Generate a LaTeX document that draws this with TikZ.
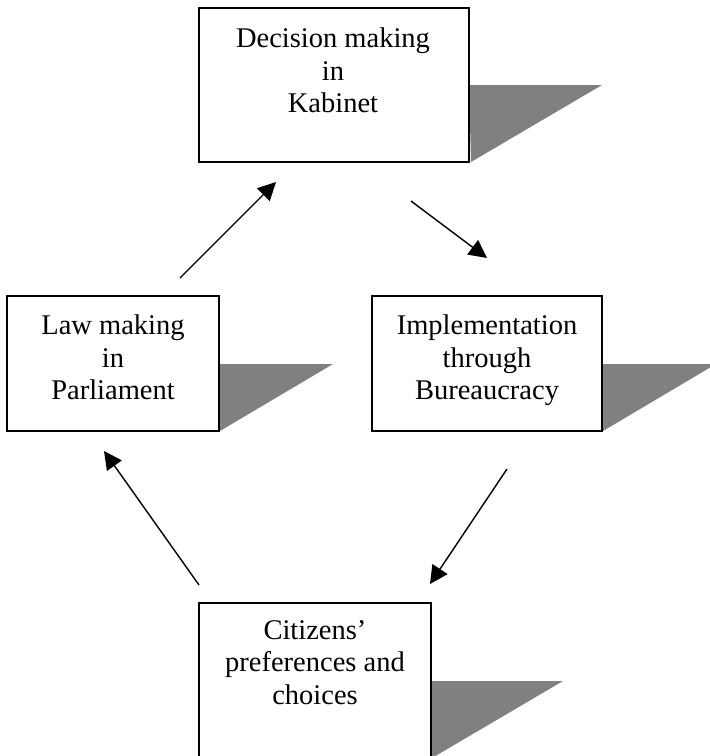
\documentclass[tikz,border=0pt]{standalone}
\usepackage{fontspec}
\setmainfont{Liberation Serif}
\usetikzlibrary{arrows.meta}
\tikzset{
  boxstyle/.style={draw=black, fill=white, line width=1.3pt, inner sep=0pt},
  labelstyle/.style={align=center, anchor=north, inner sep=0pt, font=\fontsize{28.5}{32.5}\selectfont},
  flowarrow/.style={line width=1.4pt, -{Triangle[length=18pt,width=18pt]}}
}
\definecolor{shadowgray}{RGB}{128,128,128}
\begin{document}
\begin{tikzpicture}[x=1pt,y=-1pt]
\useasboundingbox (0,0) rectangle (710,756);
% shadows
\fill[shadowgray] (469,85) -- (602,85) -- (471,162) -- cycle;
\fill[shadowgray] (219,364) -- (333,364) -- (220,431) -- cycle;
\fill[shadowgray] (602,364) -- (716,364) -- (603,431) -- cycle;
\fill[shadowgray] (431,681) -- (563,681) -- (432,758) -- cycle;
% boxes
\node[boxstyle, minimum width=270pt, minimum height=154pt] (top) at (334,85) {};
\node[boxstyle, minimum width=212pt, minimum height=135pt] (left) at (113,363.5) {};
\node[boxstyle, minimum width=230pt, minimum height=135pt] (right) at (487,363.5) {};
\node[boxstyle, minimum width=232pt, minimum height=170pt] (bottom) at (315,688) {};
% labels
\node[labelstyle] (toplabel) at (333,28) {Decision making\\in\\Kabinet};
\node[labelstyle] (leftlabel) at (113,315) {Law making\\in\\Parliament};
\node[labelstyle] (rightlabel) at (487,315) {Implementation\\through\\Bureaucracy};
\node[labelstyle] (bottomlabel) at (315,620) {Citizens’\\preferences and\\choices};
% arrow end points
\coordinate (a1s) at (180,278);
\coordinate (a1e) at (276,182);
\coordinate (a2s) at (411,201);
\coordinate (a2e) at (487,258);
\coordinate (a3s) at (507,469);
\coordinate (a3e) at (430,584);
\coordinate (a4s) at (199,585);
\coordinate (a4e) at (104,451);
\draw[flowarrow] (a1s) -- (a1e);
\draw[flowarrow] (a2s) -- (a2e);
\draw[flowarrow] (a3s) -- (a3e);
\draw[flowarrow] (a4s) -- (a4e);
\end{tikzpicture}
\end{document}
